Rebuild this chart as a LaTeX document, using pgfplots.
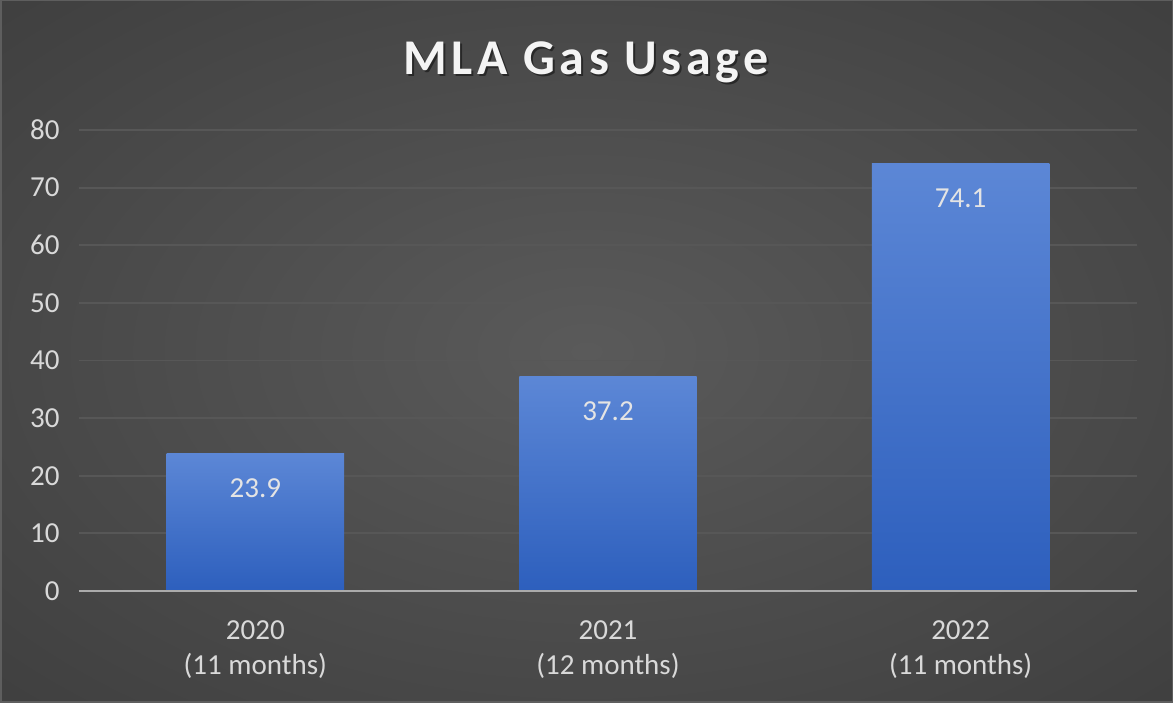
\documentclass[border=0pt]{standalone}
\usepackage{fontspec}
\setmainfont{Carlito}
\usepackage{pgfplots}
\pgfplotsset{compat=1.18}
\definecolor{bgin}{HTML}{5A5A5A}
\definecolor{bgout}{HTML}{242424}
\definecolor{bordercol}{HTML}{5E5E5E}
\definecolor{gridcol}{HTML}{575757}
\definecolor{axiscol}{HTML}{ABABAB}
\definecolor{ticklab}{HTML}{D9D9D9}
\definecolor{datalab}{HTML}{E4E4E4}
\definecolor{titlecol}{HTML}{F4F4F4}
\definecolor{bartop}{HTML}{5C87D6}
\definecolor{barbot}{HTML}{2D5FBD}
\pgfdeclareradialshading{bgshade}{\pgfpoint{0bp}{0bp}}{color(0bp)=(bgin); color(72bp)=(bgout)}
\begin{document}
\begin{tikzpicture}
\shade[shading=bgshade] (0,0) rectangle (1173pt,703pt);
\draw[line width=1.5pt, color=bordercol] (0.75pt,0.75pt) rectangle (1172.25pt,702.25pt);
\node[anchor=base, text=black, opacity=0.45, font=\fontsize{50}{60}\selectfont\bfseries\addfontfeature{LetterSpace=9}] at (587.8pt,626.2pt) {MLA Gas Usage};
\node[anchor=base, text=titlecol, font=\fontsize{50}{60}\selectfont\bfseries\addfontfeature{LetterSpace=9}] at (586pt,628pt) {MLA Gas Usage};
\begin{axis}[
  at={(79pt,112pt)}, anchor=south west,
  width=1058pt, height=461pt, scale only axis,
  xmin=-0.5, xmax=2.5, ymin=0, ymax=80,
  clip=false,
  xtick={0,1,2},
  xticklabels={{2020\\(11 months)},{2021\\(12 months)},{2022\\(11 months)}},
  ytick={0,10,...,80},
  axis line style={draw=none},
  major tick length=0pt,
  ymajorgrids,
  grid style={color=gridcol, line width=1.8pt},
  tick label style={font=\fontsize{29}{35}\selectfont, text=ticklab},
  xticklabel style={align=center, yshift=-26pt},
  yticklabel style={xshift=-16pt},
  /pgf/number format/assume math mode=true,
  nodes near coords style={anchor=center, yshift=-34.5pt, font=\fontsize{29}{35}\selectfont, text=datalab},
]
\addplot[ybar, bar width=0.503, bar shift=0pt, draw=none, top color=bartop, bottom color=barbot, nodes near coords] coordinates {(0,23.9)};
\addplot[ybar, bar width=0.503, bar shift=0pt, draw=none, top color=bartop, bottom color=barbot, nodes near coords] coordinates {(1,37.2)};
\addplot[ybar, bar width=0.503, bar shift=0pt, draw=none, top color=bartop, bottom color=barbot, nodes near coords] coordinates {(2,74.1)};
\addplot[draw=axiscol, line width=2.6pt, mark=none, forget plot] coordinates {(-0.5,0) (2.5,0)};
\end{axis}
\end{tikzpicture}
\end{document}
